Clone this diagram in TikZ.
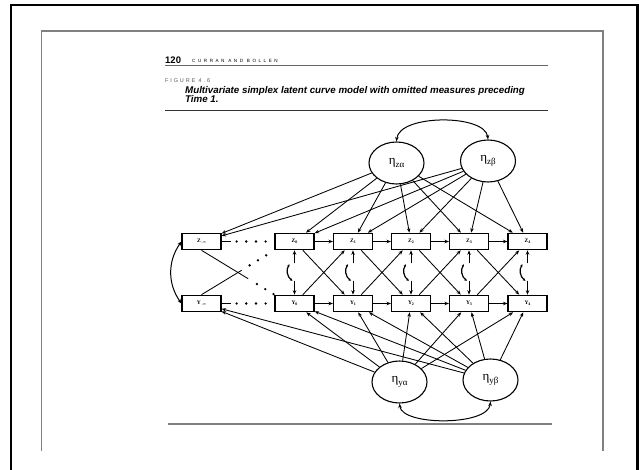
\documentclass[tikz,border=0pt]{standalone}
\usepackage{fontspec}
\newfontfamily\capfont{Liberation Sans}
\newfontfamily\hdrfont[LetterSpace=55]{Liberation Sans}
\newfontfamily\figfont[LetterSpace=34]{Liberation Sans}
\newfontfamily\grk{Liberation Serif}
\newcommand{\etalab}[1]{{\grk\fontsize{13}{14}\selectfont η\raisebox{-2.5pt}{\fontsize{9}{10}\selectfont #1}}}
\usetikzlibrary{shapes.geometric,arrows.meta,calc}
\begin{document}
\begin{tikzpicture}[x=1pt,y=-1pt,
  obs/.style={draw, line width=1.1pt, minimum width=39pt, minimum height=16.5pt, inner sep=0pt, font=\grk\bfseries\fontsize{5.5}{6}\selectfont},
  lat/.style={draw, ellipse, line width=1.1pt, minimum width=55pt, minimum height=42pt, inner sep=0pt},
  arr/.style={-{Stealth[length=4.5pt,width=3.5pt]}, line width=0.85pt},
  dbl/.style={{Stealth[length=4.5pt,width=3.5pt]}-{Stealth[length=4.5pt,width=3.5pt]}, line width=1pt},
  smalldbl/.style={{Stealth[length=2.5pt,width=2.5pt]}-{Stealth[length=2.5pt,width=2.5pt]}, line width=1.2pt},
  bigdots/.style={line width=2.6pt, line cap=round, dash pattern=on 0pt off 9.7pt},
  plain/.style={line width=0.85pt},
  txt/.style={anchor=base west, inner sep=0pt}
]
\useasboundingbox (0,0) rectangle (639,470);
% frames
\draw[line width=2.5pt] (11,471) -- (11,5) -- (637.5,5) -- (637.5,471);
\draw[gray, line width=1.2pt] (41.5,451) -- (41.5,31) -- (603,31) -- (603,451);
% header
\node[txt] (pg) at (165,63.5) {\capfont\bfseries\fontsize{9.5}{10}\selectfont 120};
\node[txt] (hd) at (192,63) {\hdrfont\fontsize{4.6}{5}\selectfont CURRAN AND BOLLEN};
\draw[gray!80!black, line width=0.8pt] (165,65.5) -- (548,65.5);
\node[txt, text=gray!70!black] (fg) at (165,83) {\figfont\fontsize{5.5}{6}\selectfont FIGURE 4.6};
\node[txt] (c1) at (185,93.5) {\capfont\bfseries\itshape\fontsize{9.75}{10}\selectfont Multivariate simplex latent curve model with omitted measures preceding};
\node[txt] (c2) at (185,103) {\capfont\bfseries\itshape\fontsize{9.75}{10}\selectfont Time 1.};
\draw[black!80, line width=1.6pt] (165,110.5) -- (548,110.5);
\draw[gray, line width=1.2pt] (168,424) -- (552,424);
% observed
\node[obs] (Zi) at (201.5,241.5) {Z\,\raisebox{-1pt}{\fontsize{4}{4}\selectfont -∞}};
\node[obs] (Z0) at (294.5,241.5) {Z\raisebox{-1pt}{\fontsize{4}{4}\selectfont 0}};
\node[obs] (Z1) at (353,241.5) {Z\raisebox{-1pt}{\fontsize{4}{4}\selectfont 1}};
\node[obs] (Z2) at (411,241.5) {Z\raisebox{-1pt}{\fontsize{4}{4}\selectfont 2}};
\node[obs] (Z3) at (469,241.5) {Z\raisebox{-1pt}{\fontsize{4}{4}\selectfont 3}};
\node[obs] (Z4) at (527.5,241.5) {Z\raisebox{-1pt}{\fontsize{4}{4}\selectfont 4}};
\node[obs] (Yi) at (201.5,303.5) {Y\,\raisebox{-1pt}{\fontsize{4}{4}\selectfont -∞}};
\node[obs] (Y0) at (294.5,303.5) {Y\raisebox{-1pt}{\fontsize{4}{4}\selectfont 0}};
\node[obs] (Y1) at (353,303.5) {Y\raisebox{-1pt}{\fontsize{4}{4}\selectfont 1}};
\node[obs] (Y2) at (411,303.5) {Y\raisebox{-1pt}{\fontsize{4}{4}\selectfont 2}};
\node[obs] (Y3) at (469,303.5) {Y\raisebox{-1pt}{\fontsize{4}{4}\selectfont 3}};
\node[obs] (Y4) at (527.5,303.5) {Y\raisebox{-1pt}{\fontsize{4}{4}\selectfont 4}};
% latent
\node[lat] (za) at (396.5,163) {\etalab{zα}};
\node[lat] (zb) at (488,161) {\etalab{zβ}};
\node[lat] (ya) at (399.5,382) {\etalab{yα}};
\node[lat] (yb) at (490.5,380) {\etalab{yβ}};
% latent covariances
\draw[dbl] (za.north) .. controls (399,114) and (485,114) .. (zb.north);
\draw[dbl] (ya.south) .. controls (402,426) and (488,426) .. (yb.south);
% loadings
\foreach \t in {Zi,Z0,Z1,Z2,Z3,Z4}{
  \draw[arr] (za) -- (\t);
  \draw[arr] (zb) -- (\t);
}
\foreach \t in {Yi,Y0,Y1,Y2,Y3,Y4}{
  \draw[arr] (ya) -- (\t);
  \draw[arr] (yb) -- (\t);
}
% autoregressive and cross-lagged
\foreach \a/\b in {0/1,1/2,2/3,3/4}{
  \draw[arr] (Z\a) -- (Z\b);
  \draw[arr] (Y\a) -- (Y\b);
  \draw[arr] (Z\a) -- (Y\b);
  \draw[arr] (Y\a) -- (Z\b);
}
% disturbances
\foreach \i in {0,...,4}{
  \coordinate (dz\i) at ($(Z\i.south)+(0,13)$);
  \coordinate (dy\i) at ($(Y\i.north)+(0,-14)$);
  \draw[arr] (dz\i) -- (Z\i.south);
  \draw[arr] (dy\i) -- (Y\i.north);
  \draw[smalldbl] ($(dz\i)+(-5,1)$) to[bend right=45] ($(dy\i)+(-2,0)$);
}
% omitted measures
\draw[dbl] (Zi.west) to[bend right=35] (Yi.west);
\draw[plain] (Zi.east) -- ++(9,0);
\draw[plain] (Yi.east) -- ++(9,0);
\draw[bigdots] ($(Zi.east)+(15,0)$) -- ($(Z0.west)+(-8,0)$);
\draw[bigdots] ($(Yi.east)+(15,0)$) -- ($(Y0.west)+(-8,0)$);
\draw[plain] (Zi.south) -- ($(Zi.south)!0.64!(Y0.north west)$);
\draw[bigdots] ($(Zi.south)!0.76!(Y0.north west)$) -- ($(Zi.south)!1.02!(Y0.north west)$);
\draw[plain] (Yi.north) -- ($(Yi.north)!0.55!(Z0.south west)$);
\draw[bigdots] ($(Yi.north)!0.66!(Z0.south west)$) -- ($(Yi.north)!1.0!(Z0.south west)$);
\end{tikzpicture}
\end{document}
